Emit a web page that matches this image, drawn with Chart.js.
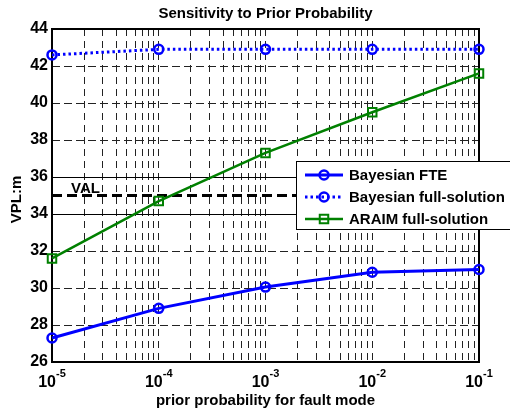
<!DOCTYPE html>
<html>
<head>
<meta charset="utf-8">
<script src="https://cdn.jsdelivr.net/npm/chart.js@4/dist/chart.umd.min.js"></script>
<style>
  html, body { margin: 0; padding: 0; background: #fff; }
</style>
</head>
<body>
<canvas id="vplChart" width="510" height="412"></canvas>
<script>
// prior probability of the fault mode (x) and the resulting VPL in metres
const priorProb = [1e-5, 1e-4, 1e-3, 1e-2, 1e-1];
const bayesFte = [27.3, 28.9, 30.05, 30.85, 31.0];
const bayesFull = [42.6, 42.9, 42.9, 42.9, 42.9];
const araimFull = [31.6, 34.7, 37.3, 39.5, 41.6];
const seriesNames = ['Bayesian FTE', 'Bayesian full-solution', 'ARAIM full-solution'];
const valLimit = 35;
const solidRefs = [34, 36];
const decadeExps = [-5, -4, -3, -2, -1];

const FONT = '"Liberation Sans", Arial, Helvetica, sans-serif';

// log grid: 1..9 per decade, plus the last decade
const gridTicks = [];
decadeExps.slice(0, -1).forEach(e => {
  for (let m = 1; m <= 9; m++) gridTicks.push(m * Math.pow(10, e));
});
gridTicks.push(Math.pow(10, decadeExps[decadeExps.length - 1]));

const pts = ys => priorProb.map((p, i) => ({ x: p, y: ys[i] }));

const matlabAxes = {
  id: 'matlabAxes',
  beforeDatasetsDraw(chart) {
    const { ctx, chartArea: a, scales: { y } } = chart;
    ctx.save();
    ctx.strokeStyle = '#000';
    ctx.lineWidth = 1;
    solidRefs.forEach(v => {
      const py = Math.round(y.getPixelForValue(v)) + 0.5;
      ctx.beginPath();
      ctx.moveTo(a.left, py);
      ctx.lineTo(a.right, py);
      ctx.stroke();
    });
    ctx.lineWidth = 2;
    ctx.strokeRect(a.left, a.top, a.right - a.left, a.bottom - a.top);
    ctx.restore();
  },
  afterDraw(chart) {
    const { ctx, chartArea: a, scales: { x, y } } = chart;
    ctx.save();
    ctx.fillStyle = '#000';
    ctx.textBaseline = 'alphabetic';

    // title and axis labels
    ctx.font = 'bold 15px ' + FONT;
    ctx.textAlign = 'center';
    ctx.fillText('Sensitivity to Prior Probability', (a.left + a.right) / 2, 18);
    ctx.fillText('prior probability for fault mode', (a.left + a.right) / 2, 405);
    ctx.save();
    ctx.translate(21, (a.top + a.bottom) / 2 + 4);
    ctx.rotate(-Math.PI / 2);
    ctx.fillText('VPL:m', 0, 0);
    ctx.restore();

    // decade tick labels with superscript exponents
    decadeExps.forEach(e => {
      const px = x.getPixelForValue(Math.pow(10, e));
      ctx.font = 'bold 16px ' + FONT;
      const wb = ctx.measureText('10').width;
      ctx.font = 'bold 11px ' + FONT;
      const we = ctx.measureText(String(e)).width;
      const x0 = px - (wb + we) / 2;
      ctx.textAlign = 'left';
      ctx.font = 'bold 16px ' + FONT;
      ctx.fillText('10', x0, 387);
      ctx.font = 'bold 11px ' + FONT;
      ctx.fillText(String(e), x0 + wb, 377);
    });

    // VAL label above the limit line
    ctx.font = 'bold 15px ' + FONT;
    ctx.textAlign = 'left';
    ctx.fillText('VAL', a.left + 19, y.getPixelForValue(valLimit) - 3);

    // legend box
    const bx = 296, by = 161, bw = 240, bh = 68;
    ctx.fillStyle = '#fff';
    ctx.fillRect(bx, by, bw, bh);
    ctx.strokeStyle = '#000';
    ctx.lineWidth = 1;
    ctx.strokeRect(bx + 0.5, by + 0.5, bw, bh);
    chart.data.datasets.slice(0, 3).forEach((ds, i) => {
      const ry = 175 + i * 22;
      ctx.save();
      ctx.strokeStyle = ds.borderColor;
      ctx.lineWidth = ds.borderWidth;
      ctx.setLineDash(ds.borderDash || []);
      ctx.beginPath();
      ctx.moveTo(305, ry);
      ctx.lineTo(343, ry);
      ctx.stroke();
      ctx.setLineDash([]);
      ctx.fillStyle = 'rgba(0,0,0,0)';
      ctx.strokeStyle = ds.pointBorderColor;
      ctx.lineWidth = ds.pointBorderWidth;
      Chart.helpers.drawPoint(ctx, {
        pointStyle: ds.pointStyle,
        radius: ds.pointRadius,
        borderWidth: ds.pointBorderWidth
      }, 324, ry);
      ctx.restore();
      ctx.fillStyle = '#000';
      ctx.font = 'bold 15px ' + FONT;
      ctx.fillText(ds.label, 349, ry + 5);
    });
    ctx.restore();
  }
};

new Chart(document.getElementById('vplChart'), {
  type: 'line',
  data: {
    datasets: [
      {
        label: seriesNames[0],
        data: pts(bayesFte),
        borderColor: '#0000ff',
        borderWidth: 3,
        pointStyle: 'circle',
        pointRadius: 4.5,
        pointBorderWidth: 2.5,
        pointBorderColor: '#0000ff',
        pointBackgroundColor: 'rgba(0,0,0,0)',
        clip: false
      },
      {
        label: seriesNames[1],
        data: pts(bayesFull),
        borderColor: '#0000ff',
        borderWidth: 3,
        borderDash: [2.5, 3],
        pointStyle: 'circle',
        pointRadius: 4.5,
        pointBorderWidth: 2.5,
        pointBorderColor: '#0000ff',
        pointBackgroundColor: 'rgba(0,0,0,0)',
        clip: false
      },
      {
        label: seriesNames[2],
        data: pts(araimFull),
        borderColor: '#008000',
        borderWidth: 2.5,
        pointStyle: 'rect',
        pointRadius: 6,
        pointBorderWidth: 2,
        pointBorderColor: '#008000',
        pointBackgroundColor: 'rgba(0,0,0,0)',
        clip: false
      },
      {
        label: 'VAL',
        data: [{ x: priorProb[0], y: valLimit }, { x: priorProb[priorProb.length - 1], y: valLimit }],
        borderColor: '#000',
        borderWidth: 3,
        borderDash: [10, 5],
        pointRadius: 0,
        order: 1,
        clip: false
      }
    ]
  },
  options: {
    responsive: false,
    animation: false,
    layout: { padding: { top: 29, right: 31, left: 0, bottom: 0 } },
    plugins: { legend: { display: false }, tooltip: { enabled: false } },
    scales: {
      x: {
        type: 'logarithmic',
        min: priorProb[0],
        max: priorProb[priorProb.length - 1],
        afterBuildTicks: s => { s.ticks = gridTicks.map(v => ({ value: v })); },
        afterFit: s => { s.height = 50; },
        ticks: { display: false },
        grid: { color: '#222', lineWidth: 1, drawTicks: false },
        border: { display: false, dash: [7, 5] }
      },
      y: {
        type: 'linear',
        min: 26,
        max: 44,
        afterFit: s => { s.width = 52; },
        ticks: {
          stepSize: 2,
          color: '#000',
          padding: 4,
          font: { family: FONT, size: 16, weight: 'bold' }
        },
        grid: { color: '#222', lineWidth: 1, drawTicks: false },
        border: { display: false, dash: [8, 4] }
      }
    }
  },
  plugins: [matlabAxes]
});
</script>
</body>
</html>
